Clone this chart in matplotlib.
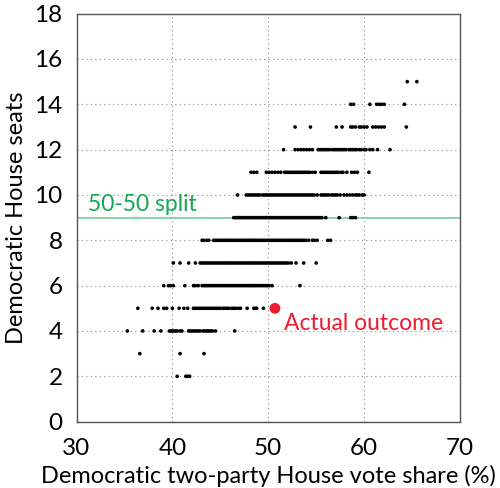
import numpy as np
import matplotlib.pyplot as plt

# vote share (%) of simulated outcomes, grouped by Democratic seats won
x_s2 = [40.5, 41.4, 41.6, 41.8]
x_s3 = [36.6, 40.8, 43.3]
x_s4 = [35.3, 36.9, 38.1, 38.8, 39.7, 39.9, 40.1, 40.3, 40.5, 40.8, 41.0, 41.7, 41.9,
        42.1, 42.3, 42.5, 42.7, 42.9, 43.2, 43.4, 43.6, 43.8, 44.0, 44.2, 44.5, 46.5]
x_s5 = [36.4, 37.9, 38.5, 39.1, 39.4, 40.0, 40.7, 41.2, 41.6, 42.2, 42.4, 42.6, 42.8,
        43.0, 43.2, 43.4, 43.6, 43.8, 44.0, 44.2, 44.4, 44.6, 44.8, 45.0, 45.3, 45.5,
        45.7, 45.9, 46.2, 46.4, 46.6, 46.9, 47.1, 47.8, 48.5, 48.7, 48.8, 49.5]
x_s6 = [39.1, 39.6, 39.8, 40.1, 41.3, 42.2, 42.4, 42.7, 43.1, 43.3, 43.5, 43.7, 43.9,
        44.1, 44.3, 44.5, 44.7, 44.9, 45.1, 45.3, 45.5, 45.7, 45.9, 46.1, 46.3, 46.5,
        46.7, 46.9, 47.1, 47.3, 47.5, 47.7, 47.9, 48.1, 48.3, 48.5, 48.7, 48.9, 49.1,
        49.3, 49.5, 49.7, 49.9, 50.1, 50.4, 53.3]
x_s7 = [40.1, 40.8, 41.7, 42.4, 42.9, 43.1, 43.3, 43.5, 43.7, 43.9, 44.1, 44.3, 44.5,
        44.7, 44.9, 45.1, 45.3, 45.5, 45.7, 45.9, 46.1, 46.3, 46.5, 46.7, 46.9, 47.1,
        47.3, 47.5, 47.7, 47.9, 48.1, 48.3, 48.5, 48.7, 48.9, 49.1, 49.3, 49.5, 49.7,
        49.9, 50.1, 50.3, 50.5, 50.7, 50.9, 51.1, 51.3, 51.5, 51.7, 51.9, 52.1, 52.4,
        52.9, 53.7, 55.0]
x_s8 = [43.1, 43.3, 43.6, 43.8, 44.3, 44.5, 44.7, 44.9, 45.1, 45.3, 45.5, 45.7, 45.9,
        46.1, 46.3, 46.5, 46.7, 46.9, 47.1, 47.3, 47.5, 47.7, 47.9, 48.1, 48.3, 48.5,
        48.7, 48.9, 49.1, 49.3, 49.5, 49.7, 49.9, 50.1, 50.3, 50.5, 50.7, 50.9, 51.1,
        51.3, 51.5, 51.7, 51.9, 52.1, 52.3, 52.5, 52.7, 52.9, 53.1, 53.3, 53.5, 53.7,
        53.9, 54.2, 54.6, 54.8, 55.1, 56.2, 56.5]
x_s9 = [46.4, 46.6, 46.8, 47.0, 47.2, 47.4, 47.6, 47.8, 48.0, 48.2, 48.4, 48.6, 48.8,
        49.0, 49.2, 49.4, 49.6, 49.8, 50.0, 50.2, 50.4, 50.6, 50.8, 51.0, 51.2, 51.4,
        51.6, 51.8, 52.0, 52.2, 52.4, 52.6, 52.8, 53.0, 53.2, 53.4, 53.6, 53.8, 54.0,
        54.2, 54.4, 54.6, 54.8, 55.0, 55.2, 55.4, 55.6, 56.0, 57.4, 58.6, 58.8, 59.1]
x_s10 = [46.8, 47.7, 47.9, 48.1, 48.3, 48.5, 48.7, 48.9, 49.1, 49.4, 49.6, 49.8, 50.0,
         50.2, 50.4, 50.6, 50.8, 51.0, 51.2, 51.4, 51.6, 51.8, 52.0, 52.2, 52.4, 52.6,
         52.8, 53.0, 53.2, 53.4, 53.6, 53.8, 54.0, 54.2, 54.4, 54.6, 54.8, 55.1, 55.5,
         55.7, 55.9, 56.1, 56.3, 56.6, 56.8, 57.0, 57.2, 57.5, 57.9, 58.2, 58.5, 58.8,
         59.1, 59.3, 59.5, 59.8, 60.0]
x_s11 = [48.2, 48.5, 48.8, 49.8, 50.1, 50.4, 50.7, 51.0, 51.3, 51.7, 51.9, 52.1, 52.3,
         52.5, 52.7, 52.9, 53.1, 53.3, 53.5, 53.7, 53.9, 54.1, 54.3, 54.6, 54.9, 55.5,
         55.7, 55.9, 56.1, 56.3, 56.5, 56.7, 56.9, 57.1, 57.3, 57.6, 57.8, 58.2, 58.7,
         59.0, 59.3, 60.5]
x_s12 = [51.6, 52.8, 53.1, 53.4, 53.7, 54.0, 54.3, 54.6, 55.2, 55.4, 55.6, 55.8, 56.0,
         56.2, 56.4, 56.7, 56.9, 57.1, 57.3, 57.5, 57.7, 57.9, 58.1, 58.4, 58.6, 58.8,
         59.0, 59.2, 59.5, 59.7, 60.0, 60.2, 60.6, 60.9, 61.4, 62.7]
x_s13 = [52.8, 54.4, 57.1, 57.7, 58.6, 58.8, 59.1, 59.5, 59.7, 60.0, 60.3, 60.9, 61.2,
         61.5, 61.8, 62.1, 64.4]
x_s14 = [58.6, 58.9, 60.6, 61.3, 61.6, 61.8, 62.1, 64.2]
x_s15 = [64.5, 65.5]
seat_levels = [2, 3, 4, 5, 6, 7, 8, 9, 10, 11, 12, 13, 14, 15]
rows = [x_s2, x_s3, x_s4, x_s5, x_s6, x_s7, x_s8, x_s9, x_s10, x_s11, x_s12,
        x_s13, x_s14, x_s15]

actual_vote = 50.7
actual_seats = 5
split_seats = 9

xs = np.concatenate([np.array(r) for r in rows])
ys = np.concatenate([np.full(len(r), s) for r, s in zip(rows, seat_levels)])

plt.rcParams['font.family'] = ['Lato', 'DejaVu Sans']

fig = plt.figure(figsize=(5, 4.88), dpi=100)
ax = fig.add_axes([0.153, 0.136, 0.767, 0.836])

ax.axhline(split_seats, color='#7fd1a4', lw=1.3, zorder=1)
ax.scatter(xs, ys, s=7, c='black', edgecolors='none', zorder=3)
ax.scatter([actual_vote], [actual_seats], s=60, c='#ee1c2e', edgecolors='none', zorder=4)

ax.text(31.2, 9.12, '50-50 split', color='#13a84f', fontsize=16.5, va='bottom', ha='left')
ax.text(51.6, 4.35, 'Actual outcome', color='#ee1c2e', fontsize=16.5, va='center', ha='left')

ax.set_xlim(30, 70)
ax.set_ylim(0, 18)
ax.set_xticks([30, 40, 50, 60, 70])
ax.set_yticks(range(0, 19, 2))
ax.grid(True, linestyle=(0, (1, 3)), color='#888888', lw=0.8)
ax.set_axisbelow(True)
ax.tick_params(labelsize=17.5, length=0)
ax.tick_params(axis='x', pad=12)
ax.tick_params(axis='y', pad=10)
for sp in ax.spines.values():
    sp.set_color('#555555')
    sp.set_linewidth(1)

ax.set_xlabel('Democratic two-party House vote share (%)', fontsize=17, labelpad=4)
ax.set_ylabel('Democratic House seats', fontsize=17, labelpad=5)

fig.savefig('out.png', dpi=100)
